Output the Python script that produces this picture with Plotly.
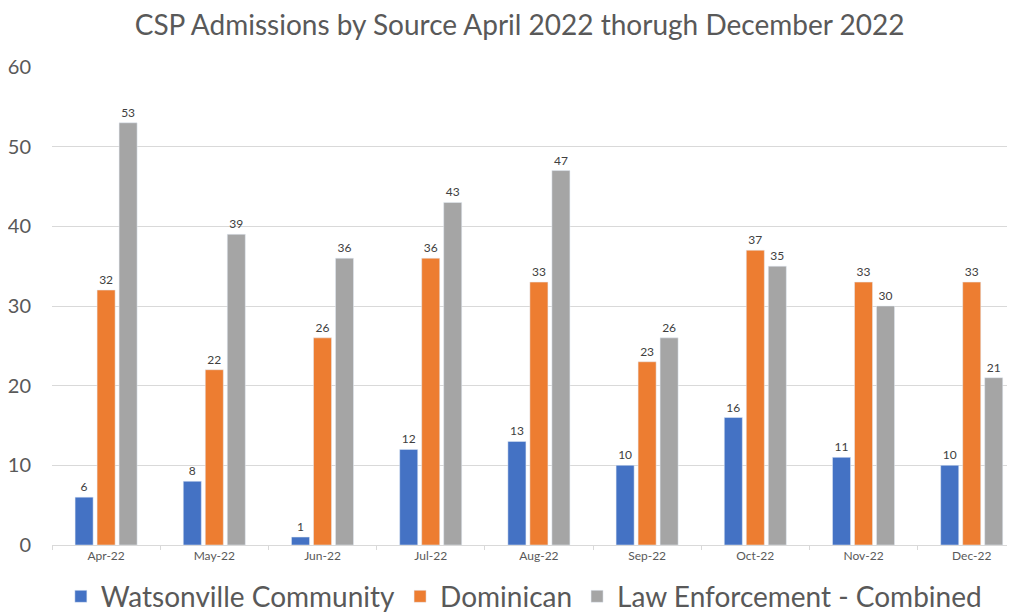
import plotly.graph_objects as go

months = ["Apr-22", "May-22", "Jun-22", "Jul-22", "Aug-22", "Sep-22", "Oct-22", "Nov-22", "Dec-22"]
watsonville = [6, 8, 1, 12, 13, 10, 16, 11, 10]
dominican = [32, 22, 26, 36, 33, 23, 37, 33, 33]
law_enforcement = [53, 39, 36, 43, 47, 26, 35, 30, 21]
y_ticks = [0, 10, 20, 30, 40, 50, 60]

series = [
    ("Watsonville Community", watsonville, "#4472C4"),
    ("Dominican", dominican, "#ED7D31"),
    ("Law Enforcement - Combined", law_enforcement, "#A5A5A5"),
]

fig = go.Figure()
for name, vals, color in series:
    fig.add_trace(go.Bar(
        x=months, y=vals, name=name, marker_color=color,
        text=vals, textposition="outside",
        textfont=dict(size=12, color="#404040", family="Lato"),
        cliponaxis=False,
    ))

fig.update_layout(
    width=1007, height=606,
    paper_bgcolor="white", plot_bgcolor="white",
    barmode="group", bargap=0.39, bargroupgap=0.18,
    margin=dict(l=44, r=0, t=59, b=69, autoexpand=False),
    title=dict(text="CSP Admissions by Source April 2022 thorugh December 2022",
               x=0.508, xanchor="center", y=0.972, yanchor="middle",
               font=dict(family="Lato", size=28, color="#595959")),
    font=dict(family="Lato", color="#595959"),
    xaxis=dict(range=[-0.5, 8.4], showgrid=False, showline=True, linecolor="#D9D9D9",
               ticks="outside", tickson="boundaries", ticklen=4, tickcolor="#D9D9D9",
               tickfont=dict(size=12, color="#595959"), automargin=False),
    yaxis=dict(range=[0, 60], tickvals=y_ticks, showgrid=True, gridcolor="#D9D9D9",
               zeroline=False, showline=False, ticks="", ticklabelstandoff=20,
               tickfont=dict(size=20, color="#595959"), automargin=False),
    legend=dict(orientation="h", x=0.49, xanchor="center", y=-0.108, yanchor="middle",
                font=dict(size=28, color="#595959", family="Lato"),
                itemwidth=30, traceorder="normal"),
    showlegend=True,
)

fig.write_html("out.html")
